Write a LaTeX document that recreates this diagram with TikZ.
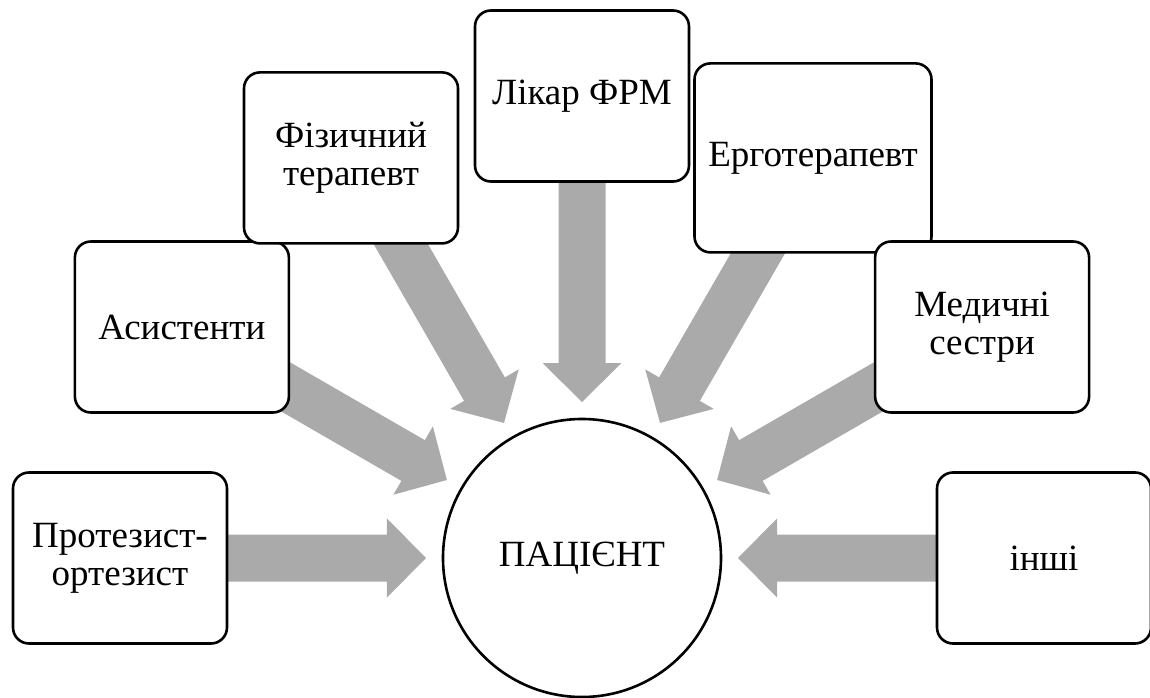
\documentclass[tikz,border=0pt]{standalone}
\usepackage{fontspec}
\setmainfont{Liberation Serif}
\usetikzlibrary{calc,backgrounds}
\definecolor{arrowgray}{RGB}{170,170,170}

\begin{document}
\begin{tikzpicture}[
  every node/.style={font=\fontsize{37}{38}\selectfont},
  member/.style={draw, line width=2.6pt, rounded corners=16pt, fill=white, align=center,
    minimum width=214pt, minimum height=171pt, inner sep=2pt},
  patient/.style={draw, circle, line width=2.6pt, fill=white, minimum size=278pt}]
  \useasboundingbox (-582pt,-139pt) rectangle (568pt,558pt);
  \node[patient] (pat) at (0,0) {ПАЦІЄНТ};
  \node[member] (prot)  at (180:462pt) {Протезист-\\ортезист};
  \node[member] (asys)  at (150:462pt) {Асистенти};
  \node[member] (fiz)   at (120:462pt) {Фізичний\\терапевт};
  \node[member] (likar) at (90:462pt)  {Лікар ФРМ};
  \node[member, minimum width=237pt, minimum height=189pt] (erho) at (60:462pt) {Ерготерапевт}; % larger box
  \node[member] (med)   at (30:462pt)  {Медичні\\сестри};
  \node[member] (inshi) at (0:462pt)   {інші};
  % block arrows, behind the boxes
  \begin{pgfonlayer}{background}
    \foreach \src in {prot,asys,fiz,likar,erho,med,inshi} {
      \coordinate (tip)  at ($(pat)!156pt!(\src)$);
      \coordinate (neck) at ($(pat)!195pt!(\src)$);
      \coordinate (tail) at ($(pat)!400pt!(\src)$);
      \fill[arrowgray] ($(tail)!23.5pt!90:(pat)$) -- ($(neck)!23.5pt!90:(pat)$)
        -- ($(neck)!39.5pt!90:(pat)$) -- (tip) -- ($(neck)!39.5pt!-90:(pat)$)
        -- ($(neck)!23.5pt!-90:(pat)$) -- ($(tail)!23.5pt!-90:(pat)$) -- cycle;
    }
  \end{pgfonlayer}
\end{tikzpicture}
\end{document}
